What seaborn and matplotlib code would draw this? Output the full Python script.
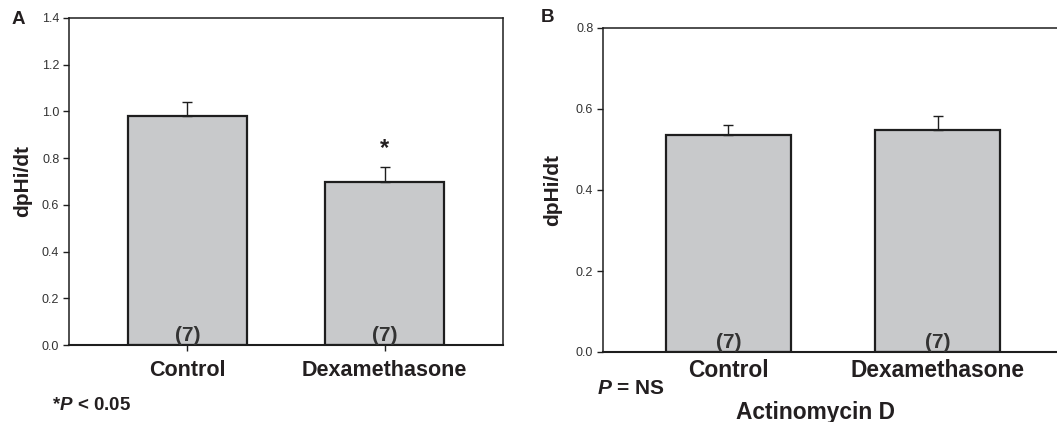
import numpy as np
import pandas as pd
import matplotlib
matplotlib.use("Agg")
import matplotlib.pyplot as plt
import seaborn as sns

# ---- data ----
categories = ["Control", "Dexamethasone"]
means_a = [0.98, 0.70]
sem_a = [0.06, 0.06]
means_b = [0.535, 0.548]
sem_b = [0.025, 0.035]
n_labels = ["(7)", "(7)"]
yticks_a = [0.0, 0.2, 0.4, 0.6, 0.8, 1.0, 1.2, 1.4]
yticks_b = [0.0, 0.2, 0.4, 0.6, 0.8]
ylabel = "dpHi/dt"

sns.set_theme(style="white")
plt.rcParams["font.family"] = ["Liberation Sans", "DejaVu Sans"]
plt.rcParams["mathtext.fontset"] = "custom"
plt.rcParams["mathtext.it"] = "Liberation Sans:italic:bold"
plt.rcParams["mathtext.rm"] = "Liberation Sans:bold"

BAR = "#c8c9cb"
EDGE = "#1e1e1e"
TXT = "#231f20"

fig = plt.figure(figsize=(10.57, 4.22), dpi=100)
axA = fig.add_axes([69 / 1057, 1 - 345 / 422, 434 / 1057, 327 / 422])
axB = fig.add_axes([603 / 1057, 1 - 352 / 422, 460 / 1057, 324 / 422])


def panel(ax, means, sems, yticks, xtick_len, xpad, catsize):
    df = pd.DataFrame({"cat": categories, "val": means})
    sns.barplot(data=df, x="cat", y="val", ax=ax, color=BAR, saturation=1,
                edgecolor=EDGE, linewidth=1.6, width=0.6, errorbar=None)
    pos = np.arange(len(categories))
    ax.errorbar(pos, means, yerr=[np.zeros(len(means)), sems], fmt="none",
                ecolor=EDGE, elinewidth=1.0, capsize=3.5, capthick=1.0, zorder=3)
    for p, lab in zip(pos, n_labels):
        ax.text(p, 0.0, lab, ha="center", va="bottom", fontsize=15,
                fontweight="bold", color="#333333")
    ax.set_xlim(-0.6, 1.6)
    ax.set_ylim(yticks[0], yticks[-1])
    ax.set_yticks(yticks)
    ax.set_yticklabels([f"{t:.1f}" for t in yticks], fontsize=9, color="#333333")
    ax.set_xticks(pos)
    ax.set_xticklabels(categories, fontsize=catsize, fontweight="bold", color=TXT)
    ax.tick_params(axis="y", direction="out", length=4, width=1, color=EDGE,
                   left=True, pad=3)
    ax.tick_params(axis="x", direction="out", length=xtick_len, width=1,
                   color=EDGE, bottom=xtick_len > 0, pad=xpad)
    ax.set_xlabel("")
    ax.set_ylabel(ylabel, fontsize=15, fontweight="bold", color=TXT, va="center")
    for s in ax.spines.values():
        s.set_color(EDGE)
        s.set_linewidth(1.1)
    ax.spines["bottom"].set_linewidth(1.5)
    ax.grid(False)


panel(axA, means_a, sem_a, yticks_a, 4, 7, 15.5)
panel(axB, means_b, sem_b, yticks_b, 0, 5, 16.4)
axA.yaxis.set_label_coords(-0.106, 0.5)
axB.yaxis.set_label_coords(-0.109, 0.5)
axB.spines["right"].set_visible(False)

# significance star
axA.text(1, means_a[1] + sem_a[1] + 0.03, "*", ha="center", va="bottom",
         fontsize=17, fontweight="bold", color=TXT)

fig.text(12 / 1057, 1 - 19 / 422, "A", fontsize=13.5, fontweight="bold",
         color=TXT, va="center", ha="left")
fig.text(541 / 1057, 1 - 17 / 422, "B", fontsize=13.5, fontweight="bold",
         color=TXT, va="center", ha="left")
fig.text(52 / 1057, 1 - 406 / 422, r"*$P$ < 0.05", fontsize=13.5,
         fontweight="bold", color=TXT, va="center", ha="left")
fig.text(597 / 1057, 1 - 388 / 422, r"$P$ = NS", fontsize=15,
         fontweight="bold", color=TXT, va="center", ha="left")
fig.text(815 / 1057, 1 - 412 / 422, "Actinomycin D", fontsize=16.4,
         fontweight="bold", color=TXT, va="center", ha="center")

fig.savefig("out.png", dpi=100)
